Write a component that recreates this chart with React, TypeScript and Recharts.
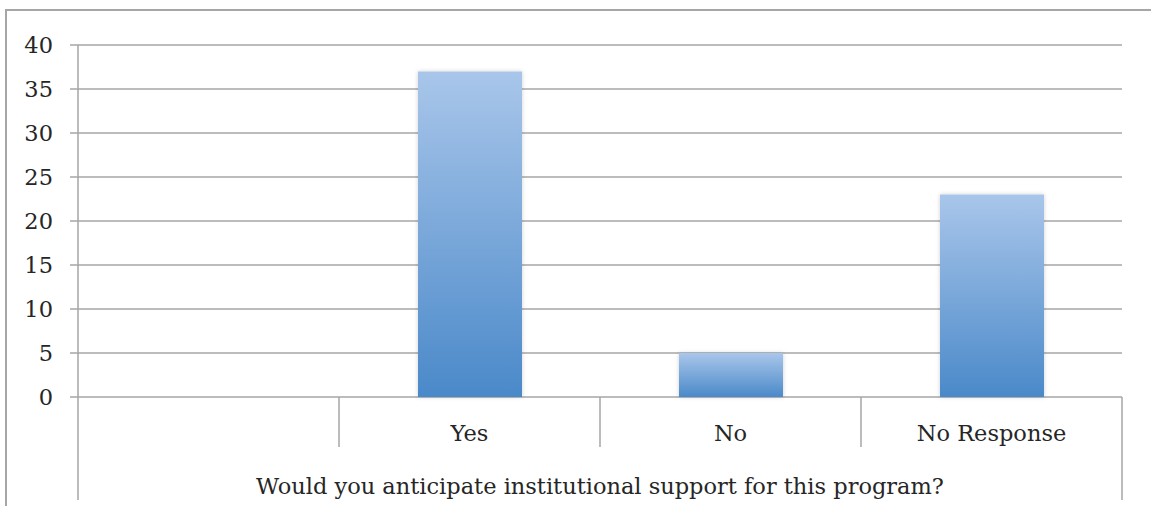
import { BarChart, Bar, XAxis, YAxis, CartesianGrid } from 'recharts'

// Survey answers (first category is an empty spacer column in the original)
const categories = ['', 'Yes', 'No', 'No Response']
const counts = [0, 37, 5, 23]
const yTicks = [0, 5, 10, 15, 20, 25, 30, 35, 40]
const axisTitle = 'Would you anticipate institutional support for this program?'

const data = categories.map((name, i) => ({ name, value: counts[i] }))

const W = 1151
const H = 506
const MARGIN = { top: 45, right: 29, left: 0, bottom: 0 }
const Y_WIDTH = 78
const X_HEIGHT = 109
const FONT = '"DejaVu Serif", serif'
const FONT_SIZE = 22.5
const LINE = '#a6a6a6'
const TEXT = '#262626'

const plotWidth = W - MARGIN.left - MARGIN.right - Y_WIDTH
const halfBand = plotWidth / categories.length / 2

// category label + the separator lines of the two-level axis
const CategoryTick = (props: any) => {
  const { x, y, payload, index } = props
  const left = x - halfBand
  const right = x + halfBand
  const last = index === categories.length - 1
  return (
    <g>
      {index === 0 ? (
        <line x1={left} y1={y} x2={left} y2={y + 103} stroke={LINE} strokeWidth={1.5} />
      ) : (
        <line x1={left} y1={y} x2={left} y2={y + 50} stroke={LINE} strokeWidth={1.5} />
      )}
      {last && (
        <line x1={right} y1={y} x2={right} y2={y + 103} stroke={LINE} strokeWidth={1.5} />
      )}
      <text x={x} y={y + 44} textAnchor="middle" fill={TEXT} fontSize={FONT_SIZE} fontFamily={FONT}>
        {payload.value}
      </text>
    </g>
  )
}

const TitleLabel = (props: any) => {
  const { viewBox } = props
  return (
    <text
      x={viewBox.x + viewBox.width / 2}
      y={viewBox.y + 97}
      textAnchor="middle"
      fill={TEXT}
      fontSize={FONT_SIZE}
      fontFamily={FONT}
    >
      {axisTitle}
    </text>
  )
}

export default function App() {
  return (
    <div style={{ position: 'absolute', left: 0, top: 0, width: W, height: H, background: '#fff' }}>
      {/* outer chart frame */}
      <div
        style={{
          position: 'absolute',
          left: 5,
          top: 9,
          width: W - 5,
          height: H - 9,
          borderTop: `2px solid ${LINE}`,
          borderLeft: `2px solid ${LINE}`,
        }}
      />
      <BarChart
        width={W}
        height={H}
        data={data}
        margin={MARGIN}
        style={{ position: 'absolute', left: 0, top: 0 }}
      >
        <defs>
          <linearGradient id="barFill" x1="0" y1="0" x2="0" y2="1">
            <stop offset="0%" stopColor="#a9c6ea" />
            <stop offset="100%" stopColor="#4a89c9" />
          </linearGradient>
          <filter id="barShadow" x="-10%" y="-10%" width="120%" height="120%">
            <feDropShadow dx="0" dy="0" stdDeviation="2" floodColor="#000" floodOpacity="0.18" />
          </filter>
        </defs>
        <CartesianGrid vertical={false} stroke={LINE} strokeWidth={1.5} />
        <XAxis
          dataKey="name"
          height={X_HEIGHT}
          axisLine={false}
          tickLine={false}
          tickSize={0}
          tickMargin={0}
          interval={0}
          tick={<CategoryTick />}
          label={<TitleLabel />}
        />
        <YAxis
          width={Y_WIDTH}
          domain={[0, 40]}
          ticks={yTicks}
          interval={0}
          axisLine={{ stroke: LINE, strokeWidth: 1.5 }}
          tickLine={{ stroke: LINE, strokeWidth: 1.5 }}
          tickSize={8}
          tickMargin={17}
          tick={{ fill: TEXT, fontSize: FONT_SIZE, fontFamily: FONT }}
        />
        <Bar
          dataKey="value"
          barSize={104}
          fill="url(#barFill)"
          filter="url(#barShadow)"
          isAnimationActive={false}
        />
      </BarChart>
    </div>
  )
}
